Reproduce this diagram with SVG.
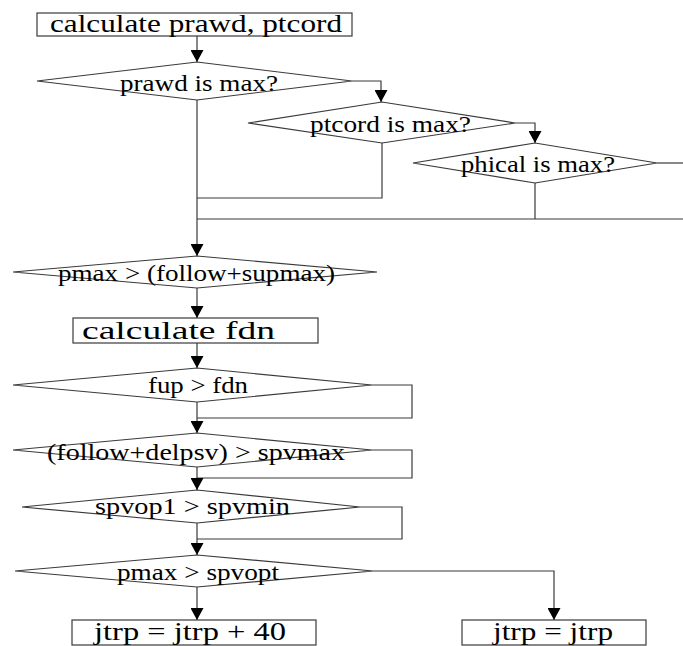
<svg xmlns="http://www.w3.org/2000/svg" width="683" height="646" viewBox="0 0 683 646">
<style>
.shape{fill:none;stroke:#3a3a3a;stroke-width:1.2}
.box{fill:#fff;stroke:#3a3a3a;stroke-width:1.2}
.ln{fill:none;stroke:#3a3a3a;stroke-width:1.2}
.t{font-family:"Liberation Serif","Times New Roman",serif;fill:#000}
.bt{font-size:26px}
.dt{font-size:23px}
</style>
<defs>
<marker id="ah" markerUnits="userSpaceOnUse" markerWidth="14" markerHeight="13" refX="12" refY="6.5" orient="auto">
<path d="M0,0 L12,6.5 L0,13 z" fill="#000"/>
</marker>
</defs>
<rect width="683" height="646" fill="#fff"/>
<g id="connectors">
<line class="ln" x1="197" y1="36" x2="197" y2="62" marker-end="url(#ah)"/>
<polyline class="ln" points="352,81 381,81 381,102" marker-end="url(#ah)"/>
<polyline class="ln" points="515,123 535,123 535,143" marker-end="url(#ah)"/>
<line class="ln" x1="657" y1="163" x2="683" y2="163"/>
<line class="ln" x1="535" y1="183" x2="535" y2="219"/>
<line class="ln" x1="197" y1="219" x2="683" y2="219"/>
<polyline class="ln" points="382,143 382,198 197,198"/>
<line class="ln" x1="197" y1="100" x2="197" y2="256" marker-end="url(#ah)"/>
<line class="ln" x1="197" y1="288" x2="197" y2="318" marker-end="url(#ah)"/>
<line class="ln" x1="197" y1="343" x2="197" y2="368" marker-end="url(#ah)"/>
<polyline class="ln" points="372,385 412,385 412,418 197,418"/>
<line class="ln" x1="197" y1="402" x2="197" y2="433" marker-end="url(#ah)"/>
<polyline class="ln" points="372,450 412,450 412,478 197,478"/>
<line class="ln" x1="197" y1="467" x2="197" y2="490" marker-end="url(#ah)"/>
<polyline class="ln" points="360,507 402,507 402,539 197,539"/>
<line class="ln" x1="197" y1="523" x2="197" y2="555" marker-end="url(#ah)"/>
<line class="ln" x1="197" y1="587" x2="197" y2="620" marker-end="url(#ah)"/>
<polyline class="ln" points="373,571 554,571 554,620" marker-end="url(#ah)"/>
</g>
<g id="n-calc-prawd">
<rect class="box" x="37" y="13" width="315" height="23"/>
<text class="t bt" x="50" y="32" textLength="292" lengthAdjust="spacingAndGlyphs">calculate prawd, ptcord</text>
</g>
<g id="n-prawd-max">
<polygon class="shape" points="37,81 197,62 352,81 197,100"/>
<text class="t dt" x="120" y="91" textLength="158" lengthAdjust="spacingAndGlyphs">prawd is max?</text>
</g>
<g id="n-ptcord-max">
<polygon class="shape" points="248,123 382,102 515,123 382,143"/>
<text class="t dt" x="310" y="132" textLength="161" lengthAdjust="spacingAndGlyphs">ptcord is max?</text>
</g>
<g id="n-phical-max">
<polygon class="shape" points="413,163 535,143 657,163 535,183"/>
<text class="t dt" x="461" y="172" textLength="154" lengthAdjust="spacingAndGlyphs">phical is max?</text>
</g>
<g id="n-pmax-supmax">
<polygon class="shape" points="13,272 197,256 377,272 197,288"/>
<text class="t dt" x="58" y="281" textLength="277" lengthAdjust="spacingAndGlyphs">pmax &gt; (follow+supmax)</text>
</g>
<g id="n-calc-fdn">
<rect class="box" x="73" y="318" width="245" height="25"/>
<text class="t bt" x="82" y="339" textLength="193" lengthAdjust="spacingAndGlyphs">calculate fdn</text>
</g>
<g id="n-fup-fdn">
<polygon class="shape" points="13,385 197,368 372,385 197,402"/>
<text class="t dt" x="148" y="393" textLength="100" lengthAdjust="spacingAndGlyphs">fup &gt; fdn</text>
</g>
<g id="n-delpsv">
<polygon class="shape" points="13,450 197,433 372,450 197,467"/>
<text class="t dt" x="47" y="460" textLength="298" lengthAdjust="spacingAndGlyphs">(follow+delpsv) &gt; spvmax</text>
</g>
<g id="n-spvop1">
<polygon class="shape" points="22,507 197,490 360,507 197,523"/>
<text class="t dt" x="95" y="514" textLength="195" lengthAdjust="spacingAndGlyphs">spvop1 &gt; spvmin</text>
</g>
<g id="n-pmax-spvopt">
<polygon class="shape" points="15,571 197,555 373,571 197,587"/>
<text class="t dt" x="117" y="580" textLength="162" lengthAdjust="spacingAndGlyphs">pmax &gt; spvopt</text>
</g>
<g id="n-jtrp40">
<rect class="box" x="72" y="620" width="244" height="25"/>
<text class="t bt" x="94" y="640" textLength="192" lengthAdjust="spacingAndGlyphs">jtrp = jtrp + 40</text>
</g>
<g id="n-jtrp">
<rect class="box" x="462" y="620" width="184" height="25"/>
<text class="t bt" x="493" y="640" textLength="120" lengthAdjust="spacingAndGlyphs">jtrp = jtrp</text>
</g>
</svg>
